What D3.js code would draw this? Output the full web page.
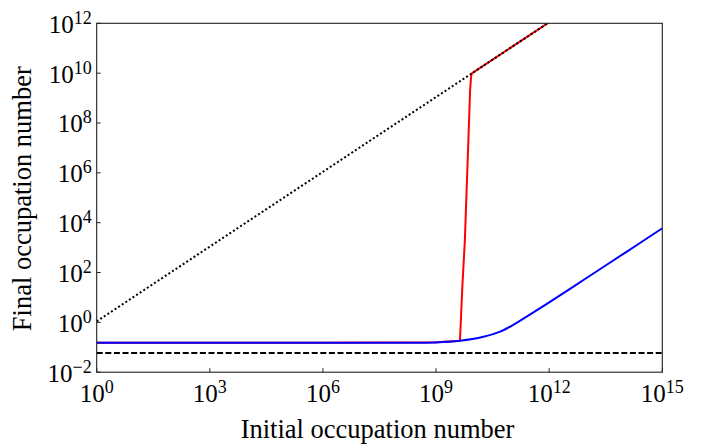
<!DOCTYPE html>
<html>
<head>
<meta charset="utf-8">
<script src="https://cdn.jsdelivr.net/npm/d3@7"></script>
<style>
  html, body { margin: 0; padding: 0; background: #fff; }
  svg { display: block; }
  text { font-family: "Liberation Serif", "Times New Roman", serif; fill: #000; }
</style>
</head>
<body>
<svg id="chart" width="702" height="445"></svg>
<script>
// ---- data ----
const xTickExps = [0, 3, 6, 9, 12, 15];
const yTickExps = [-2, 0, 2, 4, 6, 8, 10, 12];

// dotted reference line (final ≈ initial)
const dottedX = [1, 1e12];
const dottedY = [1.1, 1.1e12];

// dashed horizontal level
const dashedX = [1, 1e15];
const dashedY = [0.059, 0.059];

// red curve
const redX = [1, 1e6, 1e9, 4.3e9, 5.0e9, 5.8e9, 7.2e9, 8.0e9, 8.5e9, 8.8e9, 9.3e9, 1e11, 1e12];
const redY = [0.153, 0.153, 0.158, 0.184, 30, 1.9e3, 2.1e7, 2.1e9, 7.2e9, 9.5e9, 1.03e10, 1.1e11, 1.1e12];

// blue curve
const blueX = [1, 1e6, 1e8, 1e9, 4.3e9, 1.8e10, 5e10, 8e10, 1.4e11, 3.16e11, 1e12, 1e13, 1e14, 1e15];
const blueY = [0.153, 0.153, 0.153, 0.157, 0.182, 0.263, 0.427, 0.60, 0.977, 2.09, 6.3, 61.7, 603, 5960];

// ---- layout ----
const L = 96.7, R = 662.3, T = 23.3, B = 372.2;
const svg = d3.select("#chart");

const x = d3.scaleLog().domain([1, 1e15]).range([L, R]);
const y = d3.scaleLog().domain([1e-2, 1e12]).range([B, T]);

svg.append("defs").append("clipPath").attr("id", "plotclip")
  .append("rect").attr("x", L).attr("y", T).attr("width", R - L).attr("height", B - T);

const plot = svg.append("g").attr("clip-path", "url(#plotclip)");

function series(xs, ys) { return xs.map((v, i) => [v, ys[i]]); }
const line = d3.line().x(d => x(d[0])).y(d => y(d[1]));
const smooth = d3.line().x(d => x(d[0])).y(d => y(d[1])).curve(d3.curveCatmullRom.alpha(0.5));

plot.append("path").datum(series(redX, redY))
  .attr("d", line).attr("fill", "none").attr("stroke", "#ff0000").attr("stroke-width", 2)
  .attr("stroke-linejoin", "round");

plot.append("path").datum(series(blueX, blueY))
  .attr("d", smooth).attr("fill", "none").attr("stroke", "#0000ff").attr("stroke-width", 2);

plot.append("path").datum(series(dottedX, dottedY))
  .attr("d", line).attr("fill", "none").attr("stroke", "#000").attr("stroke-width", 2)
  .attr("stroke-dasharray", "2,2.3");

plot.append("path").datum(series(dashedX, dashedY))
  .attr("d", line).attr("fill", "none").attr("stroke", "#000").attr("stroke-width", 2)
  .attr("stroke-dasharray", "6,2.6");

// frame
svg.append("rect").attr("x", L).attr("y", T).attr("width", R - L).attr("height", B - T)
  .attr("fill", "none").attr("stroke", "#222").attr("stroke-width", 1.1);

// ticks (inward)
const xt = svg.append("g");
xTickExps.forEach(e => {
  const px = x(Math.pow(10, e));
  xt.append("line").attr("x1", px).attr("x2", px).attr("y1", B).attr("y2", B - 4)
    .attr("stroke", "#222").attr("stroke-width", 1);
  const t = xt.append("text").attr("x", px).attr("y", B + 30).attr("text-anchor", "middle")
    .style("font-size", "25px");
  t.append("tspan").text("10");
  t.append("tspan").attr("dy", -9).style("font-size", "18px").text(e < 0 ? "\u2212" + (-e) : String(e));
});

const yt = svg.append("g");
yTickExps.forEach(e => {
  const py = y(Math.pow(10, e));
  yt.append("line").attr("x1", L).attr("x2", L + 4).attr("y1", py).attr("y2", py)
    .attr("stroke", "#222").attr("stroke-width", 1);
  const t = yt.append("text").attr("x", L - 5).attr("y", py + 9.5).attr("text-anchor", "end")
    .style("font-size", "25px");
  t.append("tspan").text("10");
  t.append("tspan").attr("dy", -9).style("font-size", "18px").text(e < 0 ? "\u2212" + (-e) : String(e));
});

// axis titles
svg.append("text").attr("x", (L + R) / 2 - 2).attr("y", 438).attr("text-anchor", "middle")
  .style("font-size", "26.5px").text("Initial occupation number");

svg.append("text").attr("transform", `translate(31,${(T + B) / 2 + 1}) rotate(-90)`)
  .attr("text-anchor", "middle").style("font-size", "26.5px").text("Final occupation number");
</script>
</body>
</html>
